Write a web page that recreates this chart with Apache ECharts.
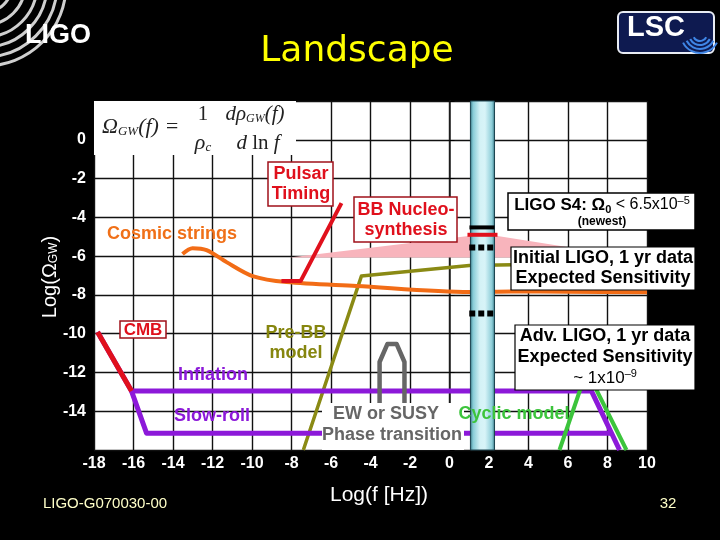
<!DOCTYPE html>
<html><head><meta charset="utf-8">
<script src="https://cdn.jsdelivr.net/npm/echarts@6/dist/echarts.min.js"></script>
<style>html,body{margin:0;padding:0;background:#000}#c{width:720px;height:540px}</style>
</head><body><div id="c"></div>
<script>
// ---- data (log10 f [Hz], log10 Omega_GW) ----
const xTickValues = [-18,-16,-14,-12,-10,-8,-6,-4,-2,0,2,4,6,8,10];
const yTickLabels = [0,-2,-4,-6,-8,-10,-12,-14];
const cosmicX = [-13.52,-13.01,-12.30,-11.29,-9.97,-8.25,-4.71,1.01,3.14,6.0,10.0];
const cosmicY = [-5.89,-5.59,-5.69,-6.31,-7.03,-7.34,-7.54,-7.85,-7.82,-7.84,-7.86];
const pulsarX = [-8.51,-7.54,-5.47];
const pulsarY = [-7.29,-7.29,-3.27];
const cmbX = [-17.82,-16.10];
const cmbY = [-9.92,-12.96];
const inflationX = [-17.82,-16.10,7.19,8.61];
const inflationY = [-9.92,-12.96,-12.96,-16.0];
const slowRollX = [-16.10,-15.34,8.15];
const slowRollY = [-12.96,-15.13,-15.13];
const preBBX = [-7.40,-4.46,1.0,3.2,6.0];
const preBBY = [-16.0,-7.03,-6.48,-6.45,-6.40];
const ewX = [-3.54,-3.54,-3.14,-2.68,-2.28,-2.28];
const ewY = [-14.0,-11.46,-10.53,-10.53,-11.46,-14.0];
const cyclicX = [5.57,6.95,8.96];
const cyclicY = [-16.0,-11.9,-16.0];
const bbnX = [-8.1,1.8,9.3];
const bbnY = [-6.07,-4.86,-6.07];
const ligoBand = [1.06,2.28];
const s4LimitX = [1.01,2.28];   const s4LimitY = -4.52;
const bbnBoundX = [0.91,2.43];  const bbnBoundY = -4.9;
const initialX = [1.0,2.3];     const initialY = -5.55;
const advX = [1.0,2.3];         const advY = -8.96;

const zip = (xs, ys) => xs.map((x,i)=>[x, Array.isArray(ys)? ys[i] : ys]);
const SANS = '"Liberation Sans", Arial, sans-serif';
const SERIF = '"Liberation Serif", "DejaVu Serif", serif';

function line(name, xs, ys, color, width, extra) {
  return Object.assign({
    type:'line', name, data: zip(xs, ys), showSymbol:false, symbol:'none',
    lineStyle:{color, width, cap:'butt', join:'round'}, z:3, silent:true, animation:false
  }, extra || {});
}

const chart = echarts.init(document.getElementById('c'), null, {renderer:'canvas'});

function textEl(x, y, text, font, fill, extra) {
  return Object.assign({type:'text', z:100, style:Object.assign({
    x, y, text, font, fill, align:'center', verticalAlign:'middle', textAlign:'center', textVerticalAlign:'middle'
  }, extra || {})});
}
function rectEl(x, y, w, h, stroke, lw) {
  return {type:'rect', z:99, shape:{x, y, width:w, height:h},
    style:{fill:'#fff', stroke: stroke || null, lineWidth: lw || 0}};
}

const graphics = [];
// LIGO logo arcs
[27,40,52,62,72,81].forEach(r => graphics.push({type:'arc', z:90,
  shape:{cx:-15, cy:-15, r, startAngle:0, endAngle:Math.PI/2},
  style:{stroke:'#cfcfcf', lineWidth:3, fill:null}}));
graphics.push(textEl(58, 36, 'LIGO', 'bold 27px ' + SANS, '#fff'));
// LSC logo
graphics.push({type:'rect', z:90, shape:{x:618, y:12, width:96, height:41, r:5},
  style:{fill:'#0e1a50', stroke:'#e8ecf4', lineWidth:2}});
[7,11,15,19].forEach(r => graphics.push({type:'arc', z:91,
  shape:{cx:700, cy:34, r, startAngle:0.15*Math.PI, endAngle:0.85*Math.PI},
  style:{stroke:'#3f86e6', lineWidth:2, fill:null}}));
graphics.push(textEl(656, 28, 'LSC', 'bold 29px ' + SANS, '#fff'));
// Title
graphics.push(textEl(357, 52, 'Landscape', '36px "DejaVu Sans", sans-serif', '#ffff00'));
// Formula box
graphics.push({type:'rect', z:95, shape:{x:94, y:101, width:202, height:54}, style:{fill:'#fff'}});
graphics.push({type:'text', z:100, style:{x:102, y:127, text:'{a|Ω}{s|GW}{a|(f) =}',
  verticalAlign:'middle', textVerticalAlign:'middle', fill:'#222',
  rich:{a:{fontFamily:SERIF, fontStyle:'italic', fontSize:22, fill:'#222', color:'#222'},
        s:{fontFamily:SERIF, fontStyle:'italic', fontSize:13, fill:'#222', color:'#222', verticalAlign:'bottom', lineHeight:13}}}});
graphics.push(textEl(203, 114, '1', '21px ' + SERIF, '#222'));
graphics.push(textEl(203, 143, '{a|ρ}{s|c}', '', '#222', {rich:{
  a:{fontFamily:SERIF, fontStyle:'italic', fontSize:22, color:'#222', fill:'#222'},
  s:{fontFamily:SERIF, fontStyle:'italic', fontSize:13, color:'#222', fill:'#222', verticalAlign:'bottom', lineHeight:13}}}));
graphics.push(textEl(255, 114, '{a|dρ}{s|GW}{a|(f)}', '', '#222', {rich:{
  a:{fontFamily:SERIF, fontStyle:'italic', fontSize:21, color:'#222', fill:'#222'},
  s:{fontFamily:SERIF, fontStyle:'italic', fontSize:12, color:'#222', fill:'#222', verticalAlign:'bottom', lineHeight:12}}}));
graphics.push(textEl(258, 143, '{a|d }{r|ln }{a|f}', '', '#222', {rich:{
  a:{fontFamily:SERIF, fontStyle:'italic', fontSize:21, color:'#222', fill:'#222'},
  r:{fontFamily:SERIF, fontSize:21, color:'#222', fill:'#222'}}}));
// Axis titles
graphics.push({type:'text', z:100, x:50, y:277, rotation:Math.PI/2, style:{x:0, y:0,
  text:'{a|Log(Ω}{s|GW}{a|)}', align:'center', verticalAlign:'middle', textAlign:'center', textVerticalAlign:'middle',
  rich:{a:{fontFamily:SANS, fontSize:20, color:'#fff', fill:'#fff'},
        s:{fontFamily:SANS, fontSize:12, color:'#fff', fill:'#fff', verticalAlign:'bottom', lineHeight:12}}}});
graphics.push(textEl(379, 495, 'Log(f [Hz])', '21px ' + SANS, '#fff'));
// Footer
graphics.push(textEl(105, 504, 'LIGO-G070030-00', '15px ' + SANS, '#ffffc8'));
graphics.push(textEl(668, 504, '32', '15px ' + SANS, '#ffffc8'));

const RED = '#e0101c', DARKRED = '#a0101a';
const B18 = 'bold 18px ' + SANS;
// Pulsar timing
graphics.push(rectEl(268, 162, 65, 44, DARKRED, 1.5));
graphics.push(textEl(301, 184, 'Pulsar\nTiming', B18, RED, {lineHeight:20}));
// BBN
graphics.push(rectEl(354, 197, 103, 45, DARKRED, 1.5));
graphics.push(textEl(406, 220, 'BB Nucleo-\nsynthesis', B18, RED, {lineHeight:20}));
// CMB
graphics.push(rectEl(120, 321, 46, 17, DARKRED, 1.5));
graphics.push(textEl(143, 330, 'CMB', 'bold 17px ' + SANS, RED));
// Cosmic strings, inflation, slow-roll, pre-BB
graphics.push(textEl(172, 234, 'Cosmic strings', B18, '#f07018'));
graphics.push(textEl(213, 375, 'Inflation', B18, '#8c19d9'));
graphics.push(textEl(212, 416, 'Slow-roll', B18, '#8c19d9'));
graphics.push(textEl(296, 343, 'Pre-BB\nmodel', B18, '#86860e', {lineHeight:20}));
// EW / SUSY
graphics.push({type:'rect', z:98, shape:{x:322, y:403, width:142, height:47}, style:{fill:'#fff'}});
graphics.push(textEl(386, 414, 'EW or SUSY', B18, '#666'));
graphics.push(textEl(392, 435, 'Phase transition', B18, '#666'));
// Cyclic
graphics.push(textEl(514, 414, 'Cyclic model', B18, '#3cc43c'));
// LIGO S4
graphics.push(rectEl(508, 193, 187, 37, '#000', 1.5));
graphics.push(textEl(602, 205, '{b|LIGO S4: Ω}{bs|0}{n| < 6.5x10}{sup|–5}', '', '#000', {rich:{
  b:{fontWeight:'bold', fontSize:17, fontFamily:SANS, color:'#000', fill:'#000', lineHeight:20},
  bs:{fontWeight:'bold', fontSize:11, fontFamily:SANS, color:'#000', fill:'#000', verticalAlign:'bottom', lineHeight:11},
  n:{fontSize:16, fontFamily:SANS, color:'#000', fill:'#000', lineHeight:20},
  sup:{fontSize:11, fontFamily:SANS, color:'#000', fill:'#000', verticalAlign:'top', lineHeight:11}}}));
graphics.push(textEl(602, 222, '(newest)', 'bold 12px ' + SANS, '#000'));
// Initial LIGO
graphics.push(rectEl(511, 247, 184, 43, '#000', 1.2));
graphics.push(textEl(603, 268, 'Initial LIGO, 1 yr data\nExpected Sensitivity', B18, '#000', {lineHeight:20}));
// Adv LIGO
graphics.push(rectEl(515, 325, 180, 65, '#000', 1.2));
graphics.push(textEl(605, 347, 'Adv. LIGO, 1 yr data\nExpected Sensitivity', B18, '#000', {lineHeight:21}));
graphics.push(textEl(605, 378, '{n|~ 1x10}{sup|–9}', '', '#000', {rich:{
  n:{fontSize:17, fontFamily:SANS, color:'#000', fill:'#000', lineHeight:20},
  sup:{fontSize:11, fontFamily:SANS, color:'#000', fill:'#000', verticalAlign:'top', lineHeight:11}}}));

const option = {
  backgroundColor:'#000',
  animation:false,
  grid:{left:94, right:73, top:101, bottom:90, show:true, backgroundColor:'#fff', borderWidth:0},
  xAxis:{type:'value', min:-18, max:10, interval:2,
    axisLine:{show:false}, axisTick:{show:false},
    splitLine:{show:true, lineStyle:{color:'#111', width:1.4}},
    axisLabel:{color:'#fff', fontFamily:SANS, fontWeight:'bold', fontSize:16, margin:6,
      formatter: v => xTickValues.includes(v) ? String(v) : ''}},
  yAxis:{type:'value', min:-16, max:2, interval:2,
    axisLine:{show:true, lineStyle:{color:'#222', width:1.5}},
    axisTick:{show:true, inside:true, length:5, lineStyle:{color:'#000'}},
    splitLine:{show:true, lineStyle:{color:'#111', width:1.4}},
    axisLabel:{color:'#fff', fontFamily:SANS, fontWeight:'bold', fontSize:16, margin:8,
      formatter: v => yTickLabels.includes(v) ? String(v) : ''}},
  graphic: graphics,
  series:[
    {type:'custom', z:1, silent:true, data: zip(bbnX, bbnY),
      renderItem:(params, api) => {
        if (params.dataIndex !== 0) return null;
        const pts = zip(bbnX, bbnY).map(p => api.coord(p));
        return {type:'polygon', shape:{points:pts}, style:{fill:'#f8b4bc'}};
      }},
    line('preBB', preBBX, preBBY, '#8a8a14', 3.5),
    line('cosmic', cosmicX, cosmicY, '#f26c16', 4, {smooth:0.3}),
    line('inflation', inflationX, inflationY, '#8c19d9', 5),
    line('slowroll', slowRollX, slowRollY, '#8c19d9', 5),
    line('cmb', cmbX, cmbY, RED, 5, {z:4}),
    line('pulsar', pulsarX, pulsarY, RED, 4, {z:4}),
    line('ew', ewX, ewY, '#666', 4.5),
    line('cyclic', cyclicX, cyclicY, '#3cc43c', 4),
    {type:'custom', z:6, silent:true, data:[[ligoBand[0], -7]],
      renderItem:(params, api) => {
        const p0 = api.coord([ligoBand[0], 2]);
        const p1 = api.coord([ligoBand[1], -16]);
        return {type:'rect', shape:{x:p0[0], y:p0[1], width:p1[0]-p0[0], height:p1[1]-p0[1]},
          style:{fill:new echarts.graphic.LinearGradient(0,0,1,0,[
            {offset:0,color:'#2c6a78'},{offset:0.12,color:'#86cbd6'},{offset:0.4,color:'#d4f2f6'},
            {offset:0.6,color:'#d8f4f8'},{offset:0.88,color:'#8ccdd8'},{offset:1,color:'#2c6a78'}]),
            stroke:'#1c4450', lineWidth:1}};
      }},
    line('s4', s4LimitX, s4LimitY, '#000', 4, {z:7}),
    line('bbnBound', bbnBoundX, bbnBoundY, RED, 4, {z:7}),
    line('initial', initialX, initialY, '#000', 6, {z:7, lineStyle:{color:'#000', width:6, type:[6,3], cap:'butt'}}),
    line('adv', advX, advY, '#000', 6, {z:7, lineStyle:{color:'#000', width:6, type:[6,3], cap:'butt'}})
  ]
};
chart.setOption(option);
</script>
</body></html>
